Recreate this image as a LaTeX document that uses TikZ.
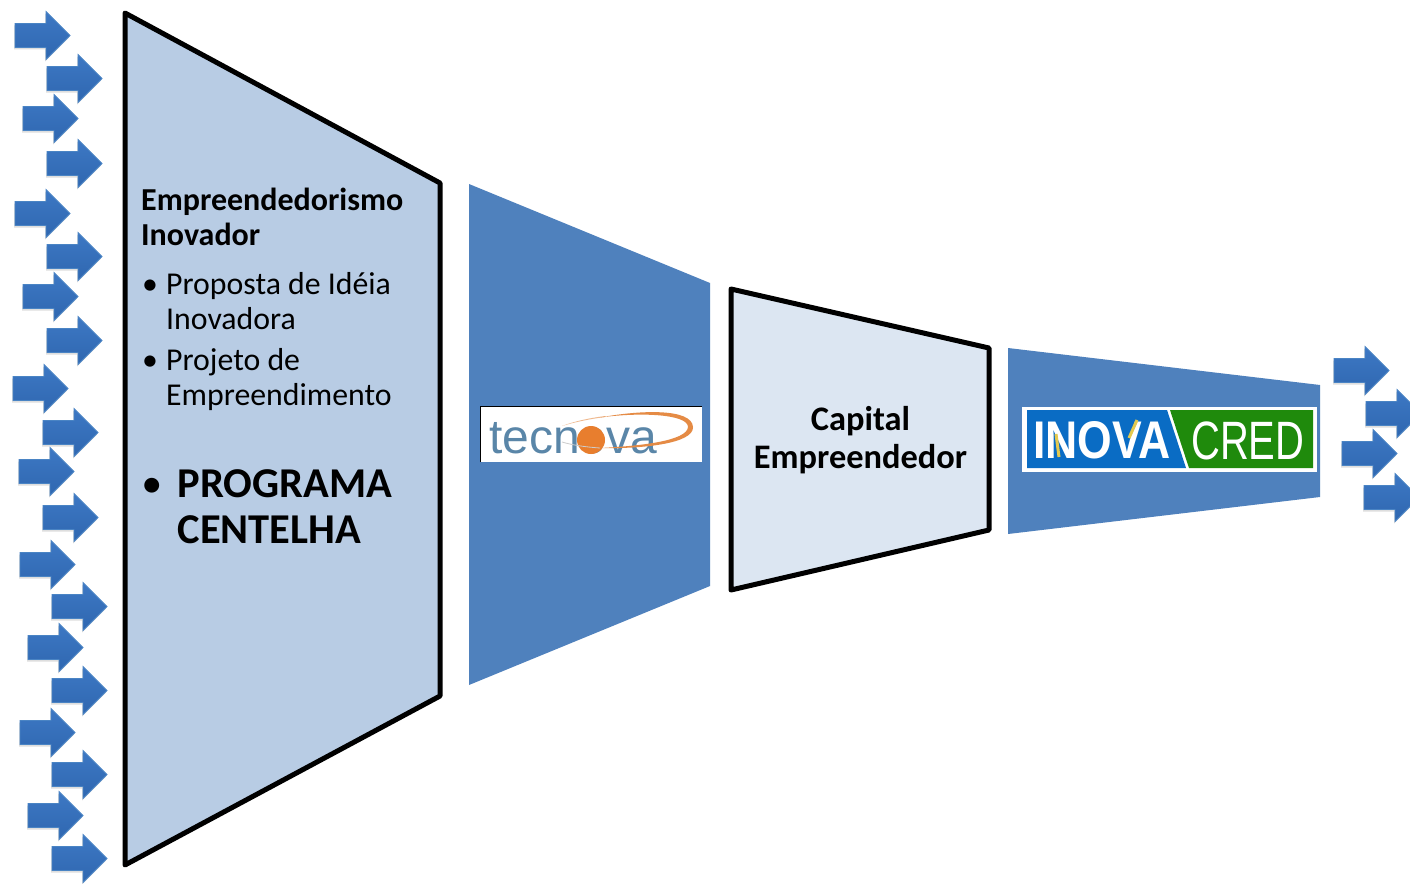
\documentclass[tikz,border=0pt]{standalone}
\usepackage{fontspec}
\usepackage{graphicx}
\setmainfont{Carlito}
\newfontfamily\logofont{Liberation Sans}
\definecolor{funnelblue}{HTML}{4F81BD}
\definecolor{lightone}{HTML}{B8CCE4}
\definecolor{lighttwo}{HTML}{DCE6F2}
\definecolor{arrowtop}{HTML}{3D78C4}
\definecolor{arrowbot}{HTML}{2F67B0}
\definecolor{arrowedge}{HTML}{4A84C4}
\definecolor{tecgrey}{HTML}{5A86A8}
\definecolor{tecorange}{HTML}{E87E2E}
\definecolor{tecswoosh}{HTML}{E58B45}
\definecolor{inoblue}{HTML}{0A6CC4}
\definecolor{inogreen}{HTML}{1F8A0C}
\definecolor{inoyellow}{HTML}{E3C94F}
\tikzset{
  x=1pt,y=-1pt,
  outlined/.style={draw=black,line width=5pt,line join=round},
  bodytext/.style={anchor=base west,inner sep=0pt,font=\fontsize{31.8}{32}\selectfont,text=black},
  boldtext/.style={bodytext,font=\fontsize{32}{32}\selectfont\bfseries},
  bigtext/.style={bodytext,font=\fontsize{42.5}{43}\selectfont\bfseries},
  bigbullet/.style={bodytext,font=\fontsize{35}{35}\selectfont\bfseries},
  captext/.style={anchor=base,inner sep=0pt,font=\fontsize{34.4}{35}\selectfont\bfseries,text=black},
  arrowfill/.style={top color=arrowtop,bottom color=arrowbot,draw=arrowedge,line width=0.8pt,line join=miter},
  arrowshadow/.style={fill=black!13,draw=none}
}
\newcommand{\arrowpath}[2]{(#1,#2-12) -- ++(31,0) -- ++(0,-12) -- ++(24,24) -- ++(-24,24) -- ++(0,-12) -- ++(-31,0) -- cycle}
\begin{document}
\begin{tikzpicture}
\useasboundingbox (0,0) rectangle (1410,883);
\fill[white] (0,0) rectangle (1410,883);
% funnel shapes
\draw[outlined,fill=lightone] (125,13) -- (440,183) -- (440,696) -- (125,865) -- cycle;
\fill[funnelblue] (469,184) -- (710,283) -- (710,586) -- (469,685) -- cycle;
\draw[outlined,fill=lighttwo] (731,289) -- (989,348) -- (989,530) -- (731,590) -- cycle;
\fill[funnelblue] (1008,348) -- (1320,385) -- (1320,497) -- (1008,534) -- cycle;
% input and output arrows
\foreach \ax/\ay in {15/35.5,47/78.5,23/118.5,47/163.5,15/213.5,47/256.5,23/296.5,47/340.5,13/388.5,43/432.5,19/471.5,43/517.5,20/564.5,52/606.5,28/647.5,52/690.5,20/732.5,52/774.5,28/815.5,52/858.5,1334/370.5,1366/413.5,1342/453.5,1364/497.5}{
  \fill[arrowshadow] \arrowpath{\ax-1}{\ay+2};
  \path[arrowfill] \arrowpath{\ax}{\ay};
}
% first funnel text
\node[boldtext] (t1) at (141,210.5) {Empreendedorismo};
\node[boldtext] (t2) at (141,245.5) {Inovador};
\node[bodytext] (b1) at (142,294.5) {•};
\node[bodytext] (t3) at (166,294.5) {Proposta de Idéia};
\node[bodytext] (t4) at (166,329.5) {Inovadora};
\node[bodytext] (b2) at (142,370.5) {•};
\node[bodytext] (t5) at (166,370.5) {Projeto de};
\node[bodytext] (t6) at (166,405.5) {Empreendimento};
\node[bigbullet] (b3) at (143,495) {•};
\node[bigtext] (t7) at (177.5,497) {PROGRAMA};
\node[bigtext] (t8) at (177.5,543) {CENTELHA};
% second text
\node[captext] (c1) at (860.5,430.5) {Capital};
\node[captext] (c2) at (860.5,468.5) {Empreendedor};
% tecnova logo
\fill[white] (480,406) rectangle (702,462);
\draw[black,line width=0.7pt] (480,462) -- (480,406) -- (702,406);
\node[anchor=base west,inner sep=0pt,text=tecgrey,font=\logofont\fontsize{48}{48}\selectfont] (tec) at (489,453) {tecnova};
\fill[tecorange] (591,440) circle (14);
\draw[black!20,line width=0.8pt] (562,442) .. controls (572,445) and (585,447) .. (600,448);
\fill[tecswoosh!60] (562,426) .. controls (575,421) and (590,418) .. (605,416) -- (605,417) .. controls (590,419) and (575,422) .. cycle;
\fill[tecswoosh] (600,417.5) .. controls (640,410) and (692,408) .. (693,427) .. controls (694,444) and (640,449) .. (600,448) .. controls (640,446) and (687,441) .. (688,427) .. controls (688,414) and (640,412) .. cycle;
% inovacred logo
\fill[white] (1022,407) rectangle (1317,472);
\fill[inoblue] (1027,410) -- (1167,410) -- (1186,468) -- (1027,468) -- cycle;
\fill[inogreen] (1170,410) -- (1313,410) -- (1313,468) -- (1189,468) -- cycle;
\node[anchor=base west,inner sep=0pt,text=white,font=\logofont\fontsize{53}{53}\selectfont\bfseries] (ino) at (1033,458) {\scalebox{0.84}[1]{INOVA}};
\node[anchor=base west,inner sep=0pt,text=white,font=\logofont\fontsize{54}{54}\selectfont] (cre) at (1191,459) {\scalebox{0.74}[1]{CRED}};
\draw[inoyellow,line width=3pt] (1056,434) -- (1059,457);
\draw[inoyellow,line width=3pt] (1137,420) -- (1129,438);
\end{tikzpicture}
\end{document}
